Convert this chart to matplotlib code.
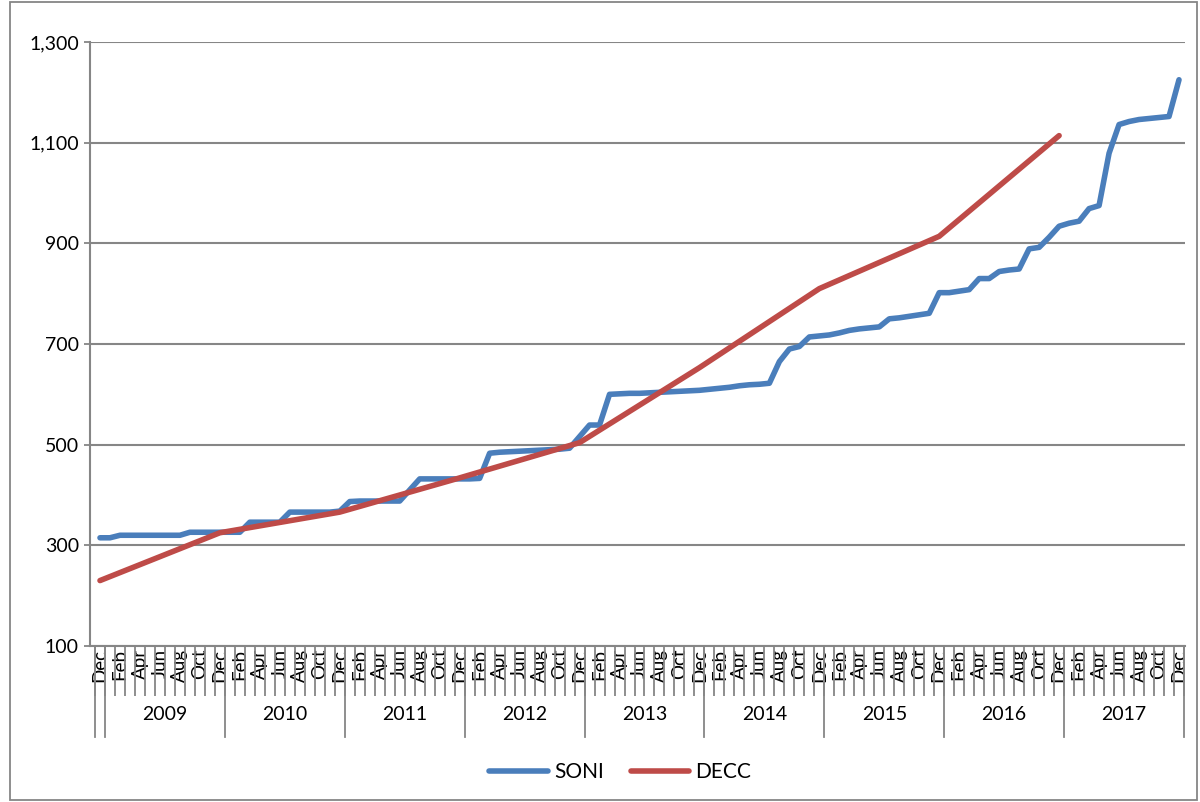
import matplotlib.pyplot as plt
from matplotlib.patches import Rectangle

plt.rcParams['font.family'] = ['Lato', 'DejaVu Sans']

# monthly SONI values, Dec 2008 .. Dec 2017
soni = [315, 315, 320, 320, 320, 320, 320, 320, 320, 326, 326, 326,
        326, 326, 326, 346, 346, 346, 346, 366, 366, 366, 366, 366,
        368, 387, 388, 388, 388, 388, 388, 410, 432, 432, 432, 432,
        432, 432, 433, 483, 485, 486, 487, 488, 489, 490, 491, 493,
        516, 539, 539, 600, 601, 602, 602, 603, 604, 605, 606, 607,
        608, 610, 612, 614, 617, 619, 620, 622, 665, 690, 695, 714,
        716, 718, 722, 727, 730, 732, 734, 750, 752, 755, 758, 761,
        802, 802, 805, 808, 830, 830, 844, 847, 849, 889, 892, 912,
        934, 940, 944, 969, 975, 1079, 1136, 1142, 1146, 1148, 1150, 1152,
        1225]

# DECC yearly values (each December), Dec 2008 .. Dec 2016
decc = [230, 325, 366, 434, 504, 653, 810, 914, 1114]
decc_month = [0, 12, 24, 36, 48, 60, 72, 84, 96]

month_names = ['Dec', 'Jan', 'Feb', 'Mar', 'Apr', 'May', 'Jun',
               'Jul', 'Aug', 'Sep', 'Oct', 'Nov']
years = [2009, 2010, 2011, 2012, 2013, 2014, 2015, 2016, 2017]
y_ticks = [100, 300, 500, 700, 900, 1100, 1300]

grey = '#868686'

fig = plt.figure(figsize=(12, 8.02), dpi=100)
ax = fig.add_axes([90/1200, 1-646/802, 1095/1200, 604/802])

months = list(range(len(soni)))
ax.plot(months, soni, color='#4a7ebb', lw=4, solid_capstyle='round',
        solid_joinstyle='round', label='SONI', zorder=3)
ax.plot(decc_month, decc, color='#be4b48', lw=4, solid_capstyle='round',
        solid_joinstyle='round', label='DECC', zorder=4)

ax.set_xlim(-1.0, 108.6)
ax.set_ylim(100, 1300)
ax.set_yticks(y_ticks)
ax.set_yticklabels(['{:,}'.format(v) for v in y_ticks], fontsize=14)
ax.yaxis.grid(True, color=grey, lw=1.5)
ax.set_axisbelow(True)

major = list(range(0, 109, 2))
ax.set_xticks(major)
ax.set_xticklabels([month_names[i % 12] for i in major], rotation=90,
                   fontsize=13.5, va='top', ha='center')
ax.set_xticks([i - 0.5 for i in range(110)], minor=True)
ax.tick_params(axis='x', which='major', length=0, pad=2)
ax.tick_params(axis='x', which='minor', length=36, color=grey, width=1.3)
ax.tick_params(axis='y', length=4, color=grey, width=1.3, pad=4)

for s in ['top', 'right']:
    ax.spines[s].set_visible(False)
for s in ['left', 'bottom']:
    ax.spines[s].set_color(grey)
    ax.spines[s].set_linewidth(1.5)

trans = ax.get_xaxis_transform()
for b in [-0.5] + [0.5 + 12*k for k in range(10)]:
    ax.plot([b, b], [0, -0.151], transform=trans, color=grey, lw=1.3,
            clip_on=False)
for k, yr in enumerate(years):
    ax.text(6.5 + 12*k, -0.114, str(yr), transform=trans, ha='center',
            va='center', fontsize=14)

fig.legend(loc='center', bbox_to_anchor=(0.517, 0.037), ncol=2,
           frameon=False, fontsize=15, handlelength=2.8, columnspacing=1.3,
           handletextpad=0.3)

fig.add_artist(Rectangle((10/1200, 0.002), 1187/1200, 0.995,
                         transform=fig.transFigure, fill=False,
                         edgecolor=grey, lw=1.3))

fig.savefig('out.png', dpi=100)
